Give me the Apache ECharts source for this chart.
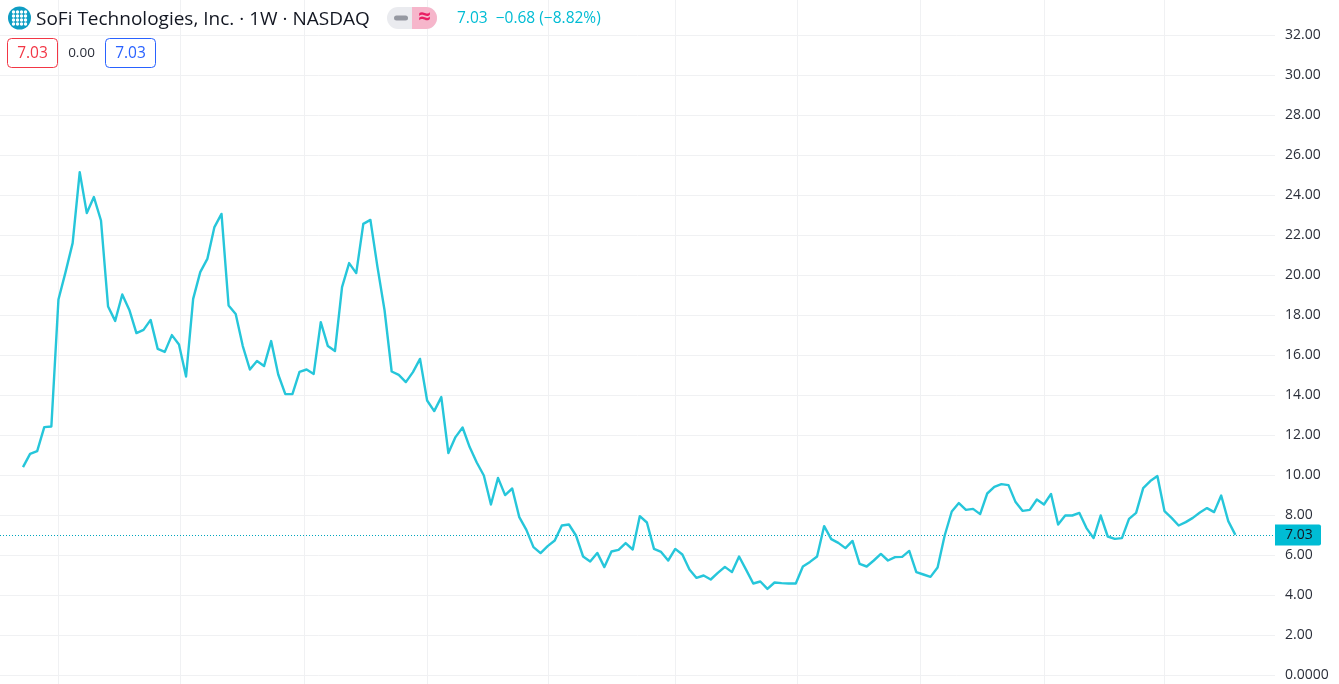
<!DOCTYPE html>
<html>
<head>
<meta charset="utf-8">
<style>html,body{margin:0;padding:0;background:#fff}#c{width:1339px;height:684px}</style>
<script src="https://cdn.jsdelivr.net/npm/echarts@6/dist/echarts.min.js"></script>
</head>
<body>
<div id="c"></div>
<script>
const closes = [
10.42,11.08,11.22,12.42,12.45,18.80,20.17,21.62,25.17,23.12,23.92,22.75,18.45,17.73,19.05,18.28,17.12,17.28,17.78,16.33,16.18,17.02,16.55,14.95,18.83,20.17,20.83,22.42,23.08,
18.50,18.08,16.47,15.30,15.72,15.47,16.72,15.05,14.07,14.07,15.18,15.30,15.08,17.67,16.47,16.22,19.42,20.62,20.12,22.58,22.78,20.42,18.25,15.20,15.03,14.67,15.17,15.83,
13.75,13.22,13.92,11.12,11.92,12.40,11.42,10.65,10.00,8.55,9.88,9.02,9.35,7.92,7.28,6.42,6.12,6.47,6.75,7.50,7.55,7.00,5.95,5.70,6.13,5.42,6.20,6.28,6.62,6.30,7.97,7.65,6.33,6.18,5.75,6.33,
6.05,5.30,4.88,5.00,4.80,5.13,5.43,5.17,5.95,5.28,4.60,4.70,4.33,4.65,4.62,4.60,4.60,5.45,5.68,5.95,7.47,6.82,6.63,6.37,6.73,5.58,5.45,5.75,6.08,5.75,5.92,5.93,6.23,5.17,5.05,4.93,5.40,
7.00,8.20,8.62,8.28,8.33,8.07,9.10,9.43,9.57,9.52,8.67,8.23,8.28,8.80,8.55,9.08,7.55,8.00,8.00,8.13,7.37,6.87,8.00,6.95,6.83,6.87,7.83,8.13,9.37,9.72,9.97,8.22,7.88,7.50,7.67,7.88,8.15,8.37,8.17,9.00,7.72,7.03
];
const lastPrice = 7.03;
const gridWeeks = [4.94,22.15,39.6,56.98,74.05,91.96,109.2,126.5,144.0,160.9];
const weeks = closes.map((_, i) => i);
const lineData = weeks.map((w, i) => [w, closes[i]]);
const titleText = 'SoFi Technologies, Inc. · 1W · NASDAQ';
const quoteText = '7.03  −0.68 (−8.82%)';
const bidText = '7.03', spreadText = '0.00', askText = '7.03';

const FONT = '"Open Sans", sans-serif';
const dots = [];
[-6,-2,2,6].forEach(dx => [-6,-2,2,6].forEach(dy => {
  dots.push({type:'circle',shape:{cx:19.5+dx,cy:18+dy,r:1.7},style:{fill:'#fff'},z:11});
}));

const chart = echarts.init(document.getElementById('c'), null, {renderer:'canvas'});
chart.setOption({
  animation:false,
  backgroundColor:'#fff',
  grid:{left:0,right:64,top:-4.5,bottom:-31.5,containLabel:false,outerBoundsMode:'none'},
  xAxis:{type:'value',min:-3.244,max:176.59,show:false,splitLine:{show:false}},
  yAxis:{type:'value',position:'right',min:-2,max:34,interval:2,
    axisLine:{show:false},axisTick:{show:false},
    splitLine:{show:true,lineStyle:{color:'#f0f1f3',width:1}},
    showMinLabel:false,showMaxLabel:false,
    axisLabel:{margin:10,color:'#2a2e39',fontFamily:FONT,fontSize:14,
      formatter:v=>(v<0||v>32)?'':(v===0?'0.0000':v.toFixed(2))}
  },
  series:[
    {type:'line',name:'grid',data:[],z:1,silent:true,symbol:'none',
     markLine:{silent:true,symbol:'none',animation:false,z:1,label:{show:false},
       lineStyle:{color:'#f0f1f3',width:1,type:'solid'},
       data:gridWeeks.map(x=>({xAxis:x}))}},
    {type:'line',name:'SOFI',data:lineData,z:3,symbol:'none',smooth:false,showSymbol:false,
     lineStyle:{color:'#26c6da',width:2.4,join:'round'},
     markLine:{silent:true,symbol:'none',animation:false,z:2,
       lineStyle:{color:'#00a6bd',width:1,type:[1,2]},
       label:{show:true,position:'end',distance:0,formatter:lastPrice.toFixed(2),
         backgroundColor:'#00bcd4',color:'#131722',fontFamily:FONT,fontSize:14,
         padding:[2,0,2,10],width:36,height:17,lineHeight:17,borderRadius:[0,2,2,0]},
       data:[{yAxis:lastPrice}]}}
  ],
  graphic:[
    {type:'circle',shape:{cx:19.5,cy:18,r:11.5},style:{fill:'#0e9dc4'},z:10},
    ...dots,
    {type:'text',x:36,y:19.5,z:10,style:{text:titleText,fill:'#131722',font:'19px '+FONT,verticalAlign:'middle'}},
    {type:'rect',shape:{x:387,y:7,width:50,height:22,r:11},style:{fill:'#eaebef'},z:10},
    {type:'rect',shape:{x:412,y:7,width:25,height:22,r:[0,11,11,0]},style:{fill:'#f6b6cb'},z:11},
    {type:'rect',shape:{x:394,y:15.5,width:14,height:5,r:2.5},style:{fill:'#9598a1'},z:12},
    {type:'text',x:424.5,y:18,z:12,style:{text:'≈',fill:'#e91e63',font:'bold 22px '+FONT,align:'center',verticalAlign:'middle'}},
    {type:'text',x:457,y:19,z:10,style:{text:quoteText,fill:'#00bcd4',font:'15.5px '+FONT,verticalAlign:'middle'}},
    {type:'rect',shape:{x:7.5,y:38.5,width:50,height:29,r:4},style:{fill:'#fff',stroke:'#f23645',lineWidth:1},z:10},
    {type:'text',x:32.5,y:53.5,z:11,style:{text:bidText,fill:'#f23645',font:'15.5px '+FONT,align:'center',verticalAlign:'middle'}},
    {type:'text',x:81.5,y:53.5,z:11,style:{text:spreadText,fill:'#2a2e39',font:'13.5px '+FONT,align:'center',verticalAlign:'middle'}},
    {type:'rect',shape:{x:105.5,y:38.5,width:50,height:29,r:4},style:{fill:'#fff',stroke:'#2962ff',lineWidth:1},z:10},
    {type:'text',x:130.5,y:53.5,z:11,style:{text:askText,fill:'#2962ff',font:'15.5px '+FONT,align:'center',verticalAlign:'middle'}}
  ]
});
</script>
</body>
</html>
